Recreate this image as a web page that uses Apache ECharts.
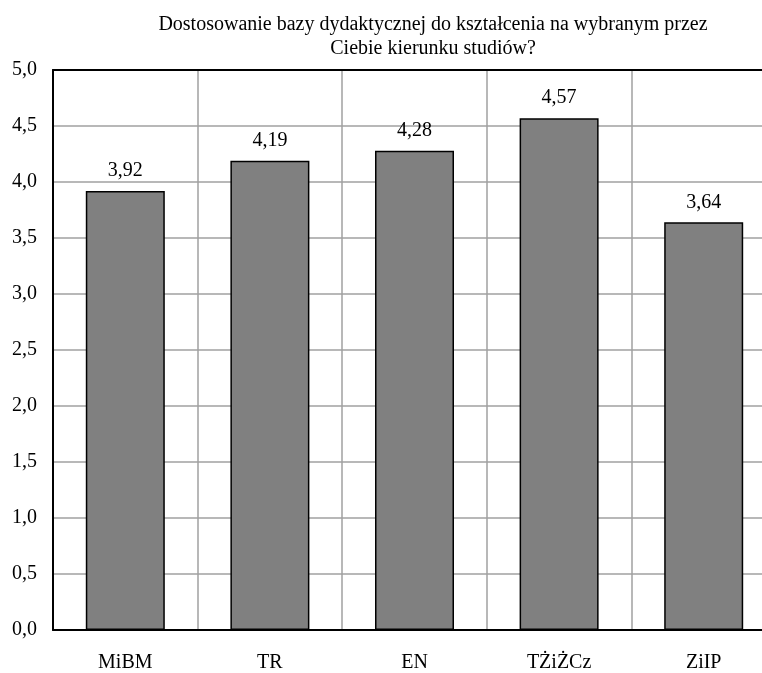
<!DOCTYPE html>
<html>
<head>
<meta charset="utf-8">
<script src="https://cdn.jsdelivr.net/npm/echarts@6/dist/echarts.min.js"></script>
<style>
  html, body { margin: 0; padding: 0; background: #fff; overflow: hidden; }
  #main { width: 776px; height: 673px; }
</style>
</head>
<body>
<div id="main"></div>
<script>
// dane z wykresu
var categories = ['MiBM', 'TR', 'EN', 'TŻiŻCz', 'ZiIP'];
var values = [3.92, 4.19, 4.28, 4.57, 3.64];
var chartTitle = 'Dostosowanie bazy dydaktycznej do kształcenia na wybranym przez\nCiebie kierunku studiów?';

var font = '"Liberation Serif", "DejaVu Serif", serif';
function comma(v, d) { return Number(v).toFixed(d).replace('.', ','); }

// wykres jest szerszy niż okno - prawa krawędź obcięta jak w oryginale
var myChart = echarts.init(document.getElementById('main'));
var option = {
  backgroundColor: '#fff',
  animation: false,
  title: {
    text: chartTitle,
    left: 428,
    top: 8,
    textAlign: 'center',
    textStyle: { fontFamily: font, fontSize: 20, fontWeight: 'normal', color: '#000', lineHeight: 24 }
  },
  grid: { left: 53, right: 0, top: 70, bottom: 40, containLabel: false },
  xAxis: [{
    type: 'category',
    data: categories,
    axisLine: { show: true, lineStyle: { color: '#000', width: 2 } },
    axisTick: { show: false },
    axisLabel: { fontFamily: font, fontSize: 20, color: '#000', margin: 23 },
    splitLine: { show: true, lineStyle: { color: '#a0a0a0', width: 1.5 } }
  }, {
    type: 'category',
    position: 'top',
    data: categories,
    axisLine: { show: true, lineStyle: { color: '#000', width: 2 } },
    axisTick: { show: false },
    axisLabel: { show: false },
    splitLine: { show: false }
  }],
  yAxis: {
    type: 'value',
    min: 0,
    max: 5,
    interval: 0.5,
    axisLine: { show: true, lineStyle: { color: '#000', width: 2 } },
    axisTick: { show: false },
    axisLabel: {
      fontFamily: font, fontSize: 20, color: '#000', margin: 16,
      formatter: function (v) { return comma(v, 1); }
    },
    splitLine: { show: true, lineStyle: { color: '#a0a0a0', width: 1.5 } }
  },
  series: [{
    type: 'bar',
    data: values,
    barWidth: 79,
    itemStyle: { color: '#808080', borderColor: '#000', borderWidth: 1.5 },
    label: {
      show: true,
      position: 'top',
      distance: 10,
      fontFamily: font,
      fontSize: 20,
      color: '#000',
      formatter: function (p) { return comma(p.value, 2); }
    }
  }]
};
myChart.setOption(option);
</script>
</body>
</html>
